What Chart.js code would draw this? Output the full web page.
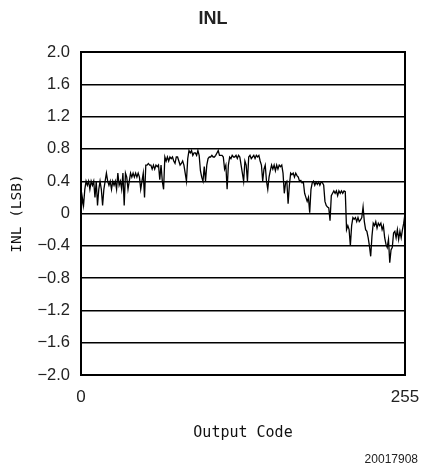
<!DOCTYPE html>
<html>
<head>
<meta charset="utf-8">
<script src="https://cdn.jsdelivr.net/npm/chart.js@4/dist/chart.umd.min.js"></script>
<style>
  html, body { margin: 0; padding: 0; background: #fff; }
  #wrap { width: 422px; height: 470px; position: relative; }
</style>
</head>
<body>
<div id="wrap"><canvas id="c" width="422" height="470"></canvas></div>
<script>
const chartTitle = "INL";
const xAxisTitle = "Output Code";
const yAxisTitle = "INL (LSB)";
const footnote = "20017908";
const xTickValues = [0, 255];
const yTickValues = [-2.0, -1.6, -1.2, -0.8, -0.4, 0, 0.4, 0.8, 1.2, 1.6, 2.0];

// INL (LSB) for each output code 0..255
const inlValues = [
  0.0, 0.2, 0.1, 0.3, 0.4, 0.35, 0.4, 0.3, 0.4, 0.35,
  0.4, 0.2, 0.4, 0.1, 0.3, 0.4, 0.3, 0.1, 0.3, 0.4,
  0.5, 0.4, 0.35, 0.4, 0.3, 0.4, 0.35, 0.4, 0.3, 0.5,
  0.35, 0.4, 0.3, 0.5, 0.1, 0.5, 0.45, 0.3, 0.4, 0.5,
  0.45, 0.5, 0.45, 0.5, 0.45, 0.5, 0.45, 0.3, 0.4, 0.5,
  0.2, 0.6, 0.6, 0.62, 0.6, 0.6, 0.55, 0.6, 0.55, 0.6,
  0.58, 0.6, 0.42, 0.6, 0.4, 0.3, 0.7, 0.65, 0.7, 0.65,
  0.7, 0.68, 0.7, 0.65, 0.62, 0.7, 0.7, 0.65, 0.6, 0.62,
  0.65, 0.6, 0.5, 0.4, 0.68, 0.78, 0.75, 0.78, 0.72, 0.75,
  0.75, 0.72, 0.78, 0.72, 0.53, 0.45, 0.4, 0.58, 0.4, 0.6,
  0.68, 0.7, 0.7, 0.72, 0.7, 0.7, 0.72, 0.75, 0.78, 0.72,
  0.72, 0.72, 0.7, 0.55, 0.6, 0.3, 0.6, 0.7, 0.68, 0.72,
  0.7, 0.7, 0.72, 0.68, 0.72, 0.7, 0.6, 0.5, 0.4, 0.65,
  0.6, 0.4, 0.7, 0.72, 0.68, 0.7, 0.72, 0.68, 0.72, 0.7,
  0.72, 0.65, 0.6, 0.4, 0.55, 0.6, 0.4, 0.3, 0.45, 0.53,
  0.6, 0.55, 0.6, 0.53, 0.6, 0.55, 0.6, 0.58, 0.6, 0.5,
  0.25, 0.38, 0.4, 0.12, 0.35, 0.5, 0.48, 0.5, 0.45, 0.5,
  0.47, 0.45, 0.4, 0.41, 0.38, 0.39, 0.25, 0.2, 0.15, 0.2,
  0.01, 0.3, 0.38, 0.4, 0.35, 0.39, 0.36, 0.39, 0.35, 0.39,
  0.38, 0.35, 0.15, 0.1, 0.08, 0.07, -0.09, 0.22, 0.25, 0.28,
  0.25, 0.28, 0.22, 0.28, 0.25, 0.28, 0.25, 0.28, 0.27, -0.2,
  -0.15, -0.2, -0.4, -0.15, -0.05, -0.07, -0.05, -0.1, -0.05, -0.1,
  -0.08, -0.05, 0.08, -0.1, -0.2, -0.22, -0.3, -0.4, -0.53, -0.28,
  -0.12, -0.15, -0.1, -0.18, -0.12, -0.15, -0.12, -0.2, -0.15, -0.3,
  -0.38, -0.42, -0.32, -0.61, -0.45, -0.42, -0.24, -0.22, -0.3, -0.2,
  -0.32, -0.22, -0.3, -0.2, -0.12, 0.0
];
const codes = inlValues.map((_, i) => i);

const extraText = {
  id: 'extraText',
  afterDraw(chart) {
    const ctx = chart.ctx;
    ctx.save();
    ctx.fillStyle = '#222';
    ctx.textAlign = 'center';
    ctx.textBaseline = 'middle';
    ctx.font = 'bold 18px "Liberation Sans", Arial, sans-serif';
    ctx.fillText(chartTitle, 213, 19);
    ctx.font = '12px "Liberation Sans", Arial, sans-serif';
    ctx.textAlign = 'right';
    ctx.fillText(footnote, 418, 460);
    ctx.restore();
  }
};

new Chart(document.getElementById('c'), {
  type: 'line',
  data: {
    labels: codes,
    datasets: [{
      data: codes.map((c, i) => ({ x: c, y: inlValues[i] })),
      borderColor: '#000',
      borderWidth: 1.3,
      pointRadius: 0,
      tension: 0,
      fill: false
    }]
  },
  options: {
    responsive: false,
    animation: false,
    layout: { padding: { top: 52, right: 17, bottom: 20, left: 0 } },
    plugins: { legend: { display: false }, title: { display: false }, tooltip: { enabled: false } },
    scales: {
      x: {
        type: 'linear',
        min: 0, max: 255,
        afterBuildTicks(scale) { scale.ticks = xTickValues.map(v => ({ value: v })); },
        afterFit(scale) { scale.height = 75; scale.paddingRight = 0; scale.paddingLeft = 0; },
        grid: { display: false, drawTicks: false },
        border: { display: false },
        ticks: { color: '#222', padding: 12, maxRotation: 0, autoSkip: false,
          font: { family: '"Liberation Sans", Arial, sans-serif', size: 17 } },
        title: { display: true, text: xAxisTitle, color: '#111', padding: { top: 0, bottom: 8 },
          font: { family: '"DejaVu Sans Mono", monospace', size: 15 } }
      },
      y: {
        min: -2.0, max: 2.0,
        afterBuildTicks(scale) { scale.ticks = yTickValues.map(v => ({ value: v })); },
        afterFit(scale) { scale.width = 81; scale.paddingTop = 0; scale.paddingBottom = 0; },
        grid: { color: '#000', lineWidth: 1.4, drawTicks: false },
        border: { display: false },
        ticks: { color: '#222', padding: 11, autoSkip: false,
          font: { family: '"Liberation Sans", Arial, sans-serif', size: 16.5 },
          callback: v => (v === 0 ? '0' : (v < 0 ? '\u2212' + Math.abs(v).toFixed(1) : v.toFixed(1))) },
        title: { display: true, text: yAxisTitle, color: '#111', padding: { top: 9, bottom: 0 },
          font: { family: '"DejaVu Sans Mono", monospace', size: 14.5 } }
      }
    }
  },
  plugins: [extraText, {
    id: 'frame',
    afterDatasetsDraw(chart) {
      const a = chart.chartArea, ctx = chart.ctx;
      ctx.save();
      ctx.strokeStyle = '#000';
      ctx.lineWidth = 2;
      ctx.strokeRect(a.left, a.top, a.right - a.left, a.bottom - a.top);
      ctx.restore();
    }
  }]
});
</script>
</body>
</html>
